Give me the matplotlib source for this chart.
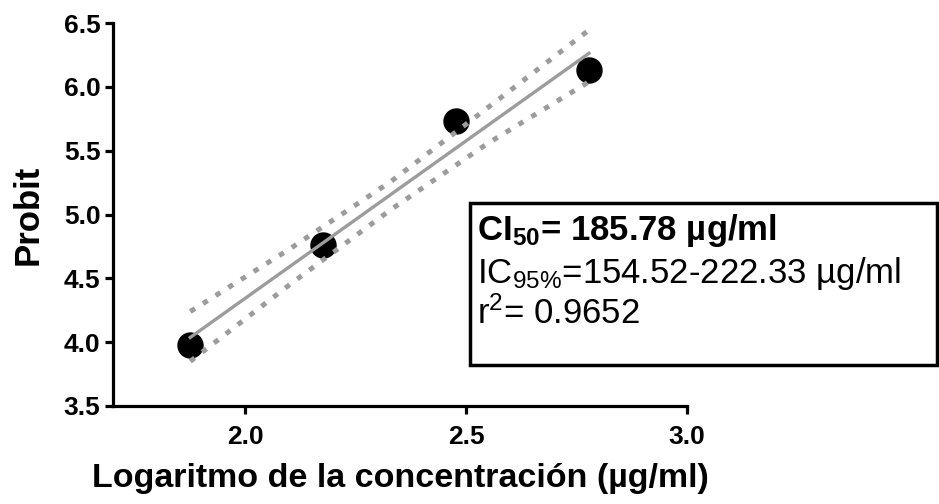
import numpy as np
import matplotlib
matplotlib.use("Agg")
import matplotlib.pyplot as plt
from matplotlib.patches import Rectangle

plt.rcParams['font.family'] = ['Liberation Sans', 'DejaVu Sans']
plt.rcParams['mathtext.fontset'] = 'custom'
plt.rcParams['mathtext.rm'] = 'Liberation Sans'
plt.rcParams['mathtext.it'] = 'Liberation Sans:italic'
plt.rcParams['mathtext.bf'] = 'Liberation Sans:bold'

# Data (log10 concentration vs probit)
log_conc = [1.875, 2.176, 2.477, 2.778]
probit = [3.98, 4.76, 5.73, 6.13]

# 95% confidence band
band_x = [1.875, 2.10, 2.33, 2.55, 2.778]
band_upper = [4.24, 4.73, 5.26, 5.84, 6.445]
band_lower = [3.85, 4.45, 5.04, 5.56, 6.04]

xticks = [2.0, 2.5, 3.0]
yticks = [3.5, 4.0, 4.5, 5.0, 5.5, 6.0, 6.5]

fig = plt.figure(figsize=(9.39, 5.04), dpi=100)
ax = fig.add_axes([113/939, 1-406/504, (687-113)/939, (406-23)/504])

gray = '#9c9c9c'
ax.plot(log_conc, probit, 'o', color='black', markersize=18, zorder=2)
coef = np.polyfit(log_conc, probit, 1)
fx = np.array([min(log_conc), max(log_conc)])
ax.plot(fx, np.polyval(coef, fx), '-', color=gray, lw=2.4, zorder=3)
ax.plot(band_x, band_upper, color=gray, lw=3.6, dashes=(1.1, 1.9), zorder=3)
ax.plot(band_x, band_lower, color=gray, lw=3.6, dashes=(1.1, 1.9), zorder=3)

ax.set_xlim(1.7, 3.0)
ax.set_ylim(3.5, 6.5)
ax.set_xticks(xticks)
ax.set_yticks(yticks)
ax.set_xticklabels([f"{v:.1f}" for v in xticks])
ax.set_yticklabels([f"{v:.1f}" for v in yticks])
for s in ['top', 'right']:
    ax.spines[s].set_visible(False)
for s in ['left', 'bottom']:
    ax.spines[s].set_linewidth(2.3)
ax.tick_params(axis='both', width=2.3, length=6, labelsize=19)
ax.tick_params(axis='x', pad=8)
ax.tick_params(axis='y', pad=3)
for lab in ax.get_xticklabels() + ax.get_yticklabels():
    lab.set_fontweight('bold')

ax.set_xlabel('Logaritmo de la concentración (µg/ml)', fontsize=24.5,
              fontweight='bold', labelpad=10)
ax.set_ylabel('Probit', fontsize=25, fontweight='bold', labelpad=14)

# Annotation box
rect = Rectangle((470/939, 1-365/504), (937-470)/939, (365-203)/504,
                 transform=fig.transFigure, fill=False, edgecolor='black',
                 lw=2.5, clip_on=False)
fig.patches.append(rect)
fig.text(477/939, 1-240/504, r'CI$_{\mathbf{50}}$= 185.78 µg/ml',
         fontsize=25, fontweight='bold', va='baseline', ha='left')
fig.text(477/939, 1-283/504, r'IC$_{95\%}$=154.52-222.33 µg/ml',
         fontsize=25, va='baseline', ha='left')
fig.text(477/939, 1-324/504, r'r$^{2}$= 0.9652',
         fontsize=25, va='baseline', ha='left')

fig.savefig('out.png', dpi=100)
